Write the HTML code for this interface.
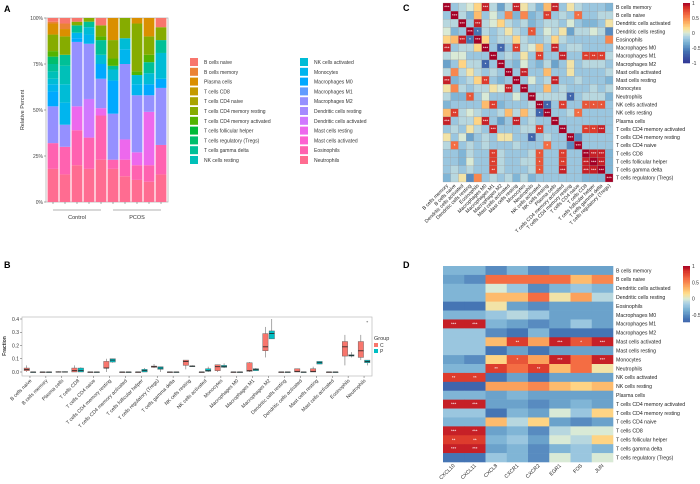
<!DOCTYPE html>
<html><head><meta charset="utf-8"><style>
body{margin:0;background:#fff}
svg{display:block;font-family:"Liberation Sans",sans-serif}
</style></head><body>
<svg id="fig" width="700" height="484" viewBox="0 0 700 484" xmlns="http://www.w3.org/2000/svg">
<rect width="700" height="484" fill="#fff"/>
<text x="4" y="12" font-size="9" font-weight="bold">A</text>
<text x="4" y="268" font-size="9" font-weight="bold">B</text>
<text x="403" y="11" font-size="9" font-weight="bold">C</text>
<text x="403" y="268" font-size="9" font-weight="bold">D</text>
<g id="pa"></g>
<g id="pb"></g>
<g id="pc"></g>
<g id="pd"></g>
</svg>
<script>
// ---------- Panel A data ----------
const aLegend1 = ["B cells naive","B cells memory","Plasma cells","T cells CD8","T cells CD4 naive","T cells CD4 memory resting","T cells CD4 memory activated","T cells follicular helper","T cells regulatory (Tregs)","T cells gamma delta","NK cells resting"];
const aLegend2 = ["NK cells activated","Monocytes","Macrophages M0","Macrophages M1","Macrophages M2","Dendritic cells resting","Dendritic cells activated","Mast cells resting","Mast cells activated","Eosinophils","Neutrophils"];
const aColors = ["#F8766D","#EB8335","#DA8F00","#C49A00","#A9A400","#86AC00","#53B400","#00BA38","#00BE6C","#00C097","#00C0B8","#00BCD6","#00B5EE","#00A9FF","#619CFF","#9590FF","#A58AFF","#D078FF","#ED68ED","#FD61D1","#FF62B0","#FF6C91"];
const aGroups = ["Control","PCOS"];
// percent per cell type (legend order) across 10 samples
const aBnaive = [2,3,2,0,4,0,0,0,0,5];
const aBmem   = [1,3,0,0,0,0,0,0,0,0];
const aPlasma = [6,4,0,0,0,12,0,3,10,0];
const aCD8    = [0,0,0,0,0,0,0,0,0,0];
const aCD4n   = [0,0,0,0,0,0,0,0,0,0];
const aCD4mr  = [9,10,2,2,6,10,11,26,10,7];
const aCD4ma  = [3,0,0,0,2,4,0,2,4,0];
const aTfh    = [0,0,0,0,0,0,0,0,0,0];
const aTreg   = [4,0,0,0,0,0,0,0,0,0];
const aTgd    = [4,6,4,3,8,2,0,0,6,7];
const aNKr    = [4,10,0,0,0,0,0,0,0,0];
const aNKa    = [3,10,0,4,5,6,6,5,6,14];
const aMono   = [4,12,3,5,0,0,8,6,0,0];
const aM0     = [8,0,2,0,8,18,0,0,6,5];
const aM1     = [0,0,0,0,0,0,0,0,0,0];
const aM2     = [20,12,35,30,16,25,41,31,9,31];
const aDCr    = [0,0,0,0,0,0,0,0,0,0];
const aDCa    = [0,0,0,21,0,0,0,0,0,0];
const aMastR  = [0,0,13,0,4,0,11,7,29,0];
const aMastA  = [0,0,0,0,0,0,0,0,0,0];
const aEos    = [14,15,19,17,24,5,9,8,9,16];
const aNeu    = [18,15,20,18,23,18,14,12,11,15];
const aSeries = [aBnaive,aBmem,aPlasma,aCD8,aCD4n,aCD4mr,aCD4ma,aTfh,aTreg,aTgd,aNKr,aNKa,aMono,aM0,aM1,aM2,aDCr,aDCa,aMastR,aMastA,aEos,aNeu];
const aTicks = ["0%","25%","50%","75%","100%"];

// ---------- Panel B data ----------
const bCats = ["B cells naive","B cells memory","Plasma cells","T cells CD8","T cells CD4 naive","T cells CD4 memory resting","T cells CD4 memory activated","T cells follicular helper","T cells regulatory (Tregs)","T cells gamma delta","NK cells resting","NK cells activated","Monocytes","Macrophages M0","Macrophages M1","Macrophages M2","Dendritic cells resting","Dendritic cells activated","Mast cells resting","Mast cells activated","Eosinophils","Neutrophils"];
const bC = [[0,0.01,0.02,0.03,0.05],[0,0,0,0,0],[0,0,0,0.003,0.005],[0,0,0.01,0.03,0.05],[0,0,0,0,0],[0,0.03,0.03,0.08,0.1],[0,0,0,0,0],[0,0,0,0,0],[0.03,0.035,0.04,0.045,0.06],[0,0,0,0,0],[0.02,0.05,0.08,0.09,0.09],[0,0,0,0,0],[0,0.01,0.04,0.055,0.055],[0,0,0,0,0],[0,0.005,0.01,0.07,0.075],[0.11,0.16,0.19,0.29,0.34],[0,0,0,0,0],[0,0,0.005,0.025,0.025],[0,0,0.005,0.025,0.04],[0,0,0,0,0],[0.05,0.12,0.19,0.23,0.28],[0.09,0.11,0.16,0.23,0.28]];
const bP = [[0,0,0,0,0],[0,0,0,0,0],[0,0,0,0.003,0.005],[0,0,0.01,0.03,0.035],[0,0,0,0,0],[0.07,0.075,0.09,0.1,0.1],[0,0,0,0,0],[0,0,0.01,0.02,0.03],[0,0.02,0.03,0.04,0.04],[0,0,0,0,0],[0.04,0.04,0.045,0.045,0.05],[0,0.005,0.01,0.025,0.04],[0.03,0.035,0.04,0.05,0.065],[0,0,0,0,0],[0.01,0.01,0.02,0.025,0.03],[0.25,0.25,0.29,0.31,0.4],[0,0,0,0,0],[0,0,0,0,0],[0.06,0.06,0.07,0.08,0.08],[0,0,0,0,0],[0.11,0.12,0.125,0.13,0.15],[0.05,0.07,0.08,0.09,0.09]];
const bOutliers = [[21,1,0.38]];
const bTicks = [0,0.1,0.2,0.3,0.4];

// ---------- Panel C data ----------
const cLabels = ["B cells memory","B cells naive","Dendritic cells activated","Dendritic cells resting","Eosinophils","Macrophages M0","Macrophages M1","Macrophages M2","Mast cells activated","Mast cells resting","Monocytes","Neutrophils","NK cells activated","NK cells resting","Plasma cells","T cells CD4 memory activated","T cells CD4 memory resting","T cells CD4 naive","T cells CD8","T cells follicular helper","T cells gamma delta","T cells regulatory (Tregs)"];
const cMatrix = [
[10,-2,-1,0,2,9,-1,-4,-1,9,1,-1,-3,3,9,-2,1,-1,-2,-2,-2,-3],
[-2,10,-1,-3,3,-2,0,-2,5,-3,5,-3,-2,8,-2,-1,-2,6,-2,-2,-1,-1],
[-1,-1,10,-2,9,-1,0,2,-1,-2,-1,-3,-2,-1,-1,-2,0,-2,-3,-3,-2,1],
[0,-3,-2,10,-6,-1,-2,-1,1,-1,-2,7,-2,0,-1,1,-4,-1,-1,0,-1,-5],
[2,3,9,-6,10,2,-2,-1,-1,2,-1,-2,-2,-1,2,-1,-2,-2,-2,-2,-2,5],
[9,-2,-1,-1,2,10,-2,-7,-2,8,-1,0,3,-2,9,-2,-1,-1,-2,-2,-2,-2],
[-1,0,0,-2,-2,-2,10,-2,-1,-2,1,-2,8,-2,-2,9,-2,-2,8,8,8,-1],
[-4,-2,2,-1,-1,-7,-2,10,-2,-3,0,-2,-3,-1,-4,-2,1,-2,-1,-1,-1,-2],
[-1,5,-1,1,-1,-2,-1,-2,10,-2,9,-2,-2,3,-2,-2,1,-2,-2,-2,-2,-1],
[9,-3,-2,-1,2,8,-2,-3,-2,10,-2,0,-2,-1,9,-2,-2,-1,-2,-2,-2,-3],
[1,5,-1,-2,-1,-1,1,0,9,-2,10,-2,-2,3,-2,-1,-2,-2,-2,-1,-2,-1],
[-1,-3,-3,7,-2,0,-2,-2,-2,0,-2,10,-1,-1,-1,-1,-7,-2,-1,-1,-1,-3],
[-3,-2,-2,-2,-2,3,8,-3,-2,-2,-2,-1,10,-7,-2,8,-2,-2,7,7,7,-2],
[3,8,-1,0,-1,-2,-2,-1,3,-1,3,-1,-7,10,-2,-2,-1,6,-2,-2,-2,-2],
[9,-2,-1,-1,2,9,-2,-4,-2,9,-2,-1,-2,-2,10,-2,-2,-2,-2,-2,-2,-2],
[-2,-1,-2,1,-1,-2,9,-2,-2,-2,-1,-1,8,-2,-2,10,-2,-2,8,8,9,-2],
[1,-2,0,-4,-2,-1,-2,1,1,-2,-2,-7,-2,-1,-2,-2,10,-5,-2,-2,-2,-2],
[-1,6,-2,-1,-2,-1,-2,-2,-2,-1,-2,-2,-2,6,-2,-2,-5,10,-2,-2,-2,-2],
[-2,-2,-3,-1,-2,-2,8,-1,-2,-2,-2,-1,7,-2,-2,8,-2,-2,10,9,9,-3],
[-2,-2,-3,0,-2,-2,8,-1,-2,-2,-1,-1,7,-2,-2,8,-2,-2,9,10,9,-3],
[-2,-1,-2,-1,-2,-2,8,-1,-2,-2,-2,-1,7,-2,-2,9,-2,-2,9,9,10,-3],
[-3,-1,1,-5,5,-2,-1,-2,-1,-3,-1,-3,-2,-2,-2,-2,-2,-2,-3,-3,-3,10]];
const cTicks = ["1","0.5","0","-0.5","-1"];

// ---------- Panel D data ----------
const dGenes = ["CXCL10","CXCL11","CXCL8","CXCR1","CXCR2","EGR1","FOS","JUN"];
const dMatrix = [
[-3,-3,-5,-3,-5,-4,-4,-4],[-4,-5,6,6,6,6,3,5],[-3,-3,0,-2,-5,-3,-2,-3],[-3,-3,3,3,6,1,4,-1],
[-6,-6,1,-4,-5,-4,-4,-4],[-3,-3,-2,-1,-2,-4,-4,-4],[9,9,-3,-4,-5,-4,-2,-4],[-2,-2,-5,-6,-3,-6,-6,-6],
[-2,-2,3,8,4,9,7,9],[-2,-2,-6,-4,-6,-4,-4,-4],[-4,-5,2,7,4,9,6,9],[-3,-3,8,6,8,3,6,1],
[8,8,-6,-4,-6,-4,-4,-4],[-7,-7,4,4,5,3,2,3],[-3,-3,-4,-3,-4,-4,-4,-4],[9,9,-4,-4,-5,-4,-3,-4],
[-2,-2,-6,-3,-4,0,-2,2],[-3,-3,3,-1,2,-4,-5,-4],[9,9,-4,-3,-5,-1,0,0],[8,8,-3,-2,-4,0,-1,2],
[9,9,-4,-3,-5,-3,-2,-3],[-6,-6,-2,-3,-5,0,-2,0]];
const dTicks = ["1","0.5","0","-0.5"];

const NS="http://www.w3.org/2000/svg";
function el(parent,tag,attrs,text){const e=document.createElementNS(NS,tag);for(const k in attrs)e.setAttribute(k,attrs[k]);if(text!==undefined)e.textContent=text;parent.appendChild(e);return e;}
const pal=["#313695","#4575B4","#74ADD1","#A6CEE4","#D9EAD6","#FEE090","#FDAE61","#F46D43","#D73027","#A50026"];
const palStops=[-1,-0.6,-0.35,-0.15,0,0.15,0.35,0.6,0.85,1];
function hex(c){return [parseInt(c.slice(1,3),16),parseInt(c.slice(3,5),16),parseInt(c.slice(5,7),16)];}
function colorAt(v,lo,hi){const t=-1+2*(v-lo)/(hi-lo);const x=Math.max(-1,Math.min(1,t));
 for(let i=0;i<palStops.length-1;i++){if(x<=palStops[i+1]){const f=(x-palStops[i])/(palStops[i+1]-palStops[i]);const a=hex(pal[i]),b=hex(pal[i+1]);return "rgb("+a.map((q,j)=>Math.round(q+(b[j]-q)*f)).join(",")+")";}}return pal[pal.length-1];}

// ===== Panel A =====
(function(){
 const g=document.getElementById('pa');
 const x0=46,x1=168,y0=18,y1=202;
 const yS=v=>y1-(v/100)*(y1-y0);
 el(g,'rect',{x:x0,y:y0,width:x1-x0,height:y1-y0,fill:'#fff',stroke:'#aaa','stroke-width':0.7});
 const n=aSeries[0].length, bw=(x1-x0-2)/n;
 for(let b=0;b<n;b++){
  let acc=0;
  for(let s=aSeries.length-1;s>=0;s--){
   const v=aSeries[s][b]; if(!v) continue;
   const r=el(g,'rect',{x:x0+1+b*bw+0.6,y:yS(acc+v),width:bw-1.2,height:yS(acc)-yS(acc+v),fill:aColors[s]});
   
   
   acc+=v;
  }
  el(g,'line',{x1:x0+1+b*bw+bw/2,x2:x0+1+b*bw+bw/2,y1:y1,y2:y1+2,stroke:'#555','stroke-width':0.5});
 }
 aTicks.forEach((t,i)=>{const y=yS(i*25);el(g,'line',{x1:x0-2,x2:x0,y1:y,y2:y,stroke:'#555','stroke-width':0.5});
  const tx=el(g,'text',{x:x0-3,y:y+1.8,'font-size':5,'text-anchor':'end',fill:'#444'},t);});
 const yt=el(g,'text',{x:0,y:0,'font-size':5.5,'text-anchor':'middle',fill:'#333',transform:'translate(24,110) rotate(-90)'},'Relative Percent');
 
 aGroups.forEach((gname,i)=>{const xs=x0+1+(i*5)*bw+bw*0.5, xe=x0+1+(i*5+4)*bw+bw*0.5;
  el(g,'line',{x1:xs,x2:xe,y1:210,y2:210,stroke:'#999','stroke-width':0.8});
  const t=el(g,'text',{x:(xs+xe)/2,y:219,'font-size':5.5,'text-anchor':'middle',fill:'#333'},gname);
  });
 [aLegend1,aLegend2].forEach((list,c)=>{list.forEach((lab,i)=>{const lx=c?300:190, ly=58+i*9.8;
  const sw=el(g,'rect',{x:lx,y:ly,width:8,height:8,fill:aColors[c*11+i]});
  
  const t=el(g,'text',{x:lx+14,y:ly+6,'font-size':5,fill:'#333'},lab);
  });});
})();

// ===== Panel B =====
(function(){
 const g=document.getElementById('pb');
 const x0=22,x1=372,y0=317,y1=376;
 const yS=v=>372-(v/0.4)*(372-319);
 el(g,'rect',{x:x0,y:y0,width:x1-x0,height:y1-y0,fill:'#fff',stroke:'#bbb','stroke-width':0.7});
 const step=(x1-x0)/bCats.length;
 bTicks.forEach(t=>{const y=yS(t);el(g,'line',{x1:x0-2,x2:x0,y1:y,y2:y,stroke:'#555','stroke-width':0.5});
  const tx=el(g,'text',{x:x0-3,y:y+1.8,'font-size':5,'text-anchor':'end',fill:'#333'},t.toFixed(1));});
 const yt=el(g,'text',{x:0,y:0,'font-size':5,'font-weight':'bold','text-anchor':'middle',fill:'#333',transform:'translate(6,346) rotate(-90)'},'Fraction');
 
 function box(cx,d,col){const w=5.4;
  el(g,'line',{x1:cx,x2:cx,y1:yS(d[0]),y2:yS(d[4]),stroke:'#555','stroke-width':0.5});
  const r=el(g,'rect',{x:cx-w/2,y:yS(d[3]),width:w,height:Math.max(0.6,yS(d[1])-yS(d[3])),fill:col,stroke:'#555','stroke-width':0.4});
  
  el(g,'line',{x1:cx-w/2,x2:cx+w/2,y1:yS(d[2]),y2:yS(d[2]),stroke:'#222','stroke-width':0.8});}
 bCats.forEach((c,i)=>{const cx=x0+step*(i+0.5);
  box(cx-3.2,bC[i],'#F8766D');box(cx+3.2,bP[i],'#00BFC4');
  el(g,'line',{x1:cx,x2:cx,y1:y1,y2:y1+2,stroke:'#555','stroke-width':0.5});
  const t=el(g,'text',{x:0,y:0,'font-size':5,'text-anchor':'end',fill:'#333',transform:`translate(${cx+2},${y1+5}) rotate(-45)`},c);
  });
 bOutliers.forEach(o=>{const cx=x0+step*(o[0]+0.5)+(o[1]?3.2:-3.2);el(g,'circle',{cx:cx,cy:yS(o[2]),r:0.8,fill:'#999'});});
 const lt=el(g,'text',{x:374,y:340,'font-size':5.5,fill:'#333'},'Group');
 [['C','#F8766D'],['P','#00BFC4']].forEach((p,i)=>{el(g,'rect',{x:374,y:343+i*6,width:4,height:4,fill:p[1]});
  const t=el(g,'text',{x:380,y:347+i*6,'font-size':5,fill:'#333'},p[0]);});
})();

// ===== heatmap helper =====
function heat(g,mat,rows,cols,x0,y0,x1,y1,lo,hi,starT,cbY0,cbY1,ticks,tickVals,colLabelFont,grid,cbLo,absStar){
 const cw=(x1-x0)/cols.length, rh=(y1-y0)/rows.length;
 mat.forEach((row,r)=>row.forEach((v10,c)=>{const v=v10/10;
  const cell=el(g,'rect',{x:x0+c*cw,y:y0+r*rh,width:cw+(grid?0:0.3),height:rh+(grid?0:0.3),fill:colorAt(v,lo,hi),stroke:grid?'#9a9a9a':'none','stroke-width':0.25});
  
  const sv=absStar?Math.abs(v10):v10;
  let s=''; if(v10>=starT[0]) s='***'; else if(v10>=starT[1]) s='**'; else if(sv>=starT[2]) s='*';
  if(s) el(g,'text',{x:x0+c*cw+cw/2,y:y0+r*rh+rh/2+1.6,'font-size':4.5,'text-anchor':'middle',fill:'#fff'},s);
 }));
 rows.forEach((lab,r)=>{const t=el(g,'text',{x:x1+3,y:y0+r*rh+rh/2+1.8,'font-size':5.2,fill:'#222'},lab);});
 cols.forEach((lab,c)=>{const cx=x0+c*cw+cw/2;const t=el(g,'text',{x:0,y:0,'font-size':colLabelFont,'text-anchor':'end',fill:'#222',transform:`translate(${cx+1.5},${y1+4}) rotate(-45)`},lab);});
 const n=40;for(let i=0;i<n;i++){const v=hi-(hi-cbLo)*(i+0.5)/n;el(g,'rect',{x:683,y:cbY0+(cbY1-cbY0)*i/n,width:7,height:(cbY1-cbY0)/n+0.3,fill:colorAt(v,lo,hi)});}
 ticks.forEach((t,i)=>{const y=cbY0+(hi-tickVals[i])/(hi-cbLo)*(cbY1-cbY0);
  const tx=el(g,'text',{x:692,y:y+1.8,'font-size':5,fill:'#333'},t);});
}
heat(document.getElementById('pc'),cMatrix,cLabels,cLabels,443,3,613,182,-1,1,[9,8,6],3,63,cTicks,[1,0.5,0,-0.5,-1],5,true,-1,true);
heat(document.getElementById('pd'),dMatrix,cLabels,dGenes,443,266,613,462,-1,1,[9,8,7],266,322,dTicks,[1,0.5,0,-0.5],5.2,false,-0.7,false);
</script>
</body></html>
